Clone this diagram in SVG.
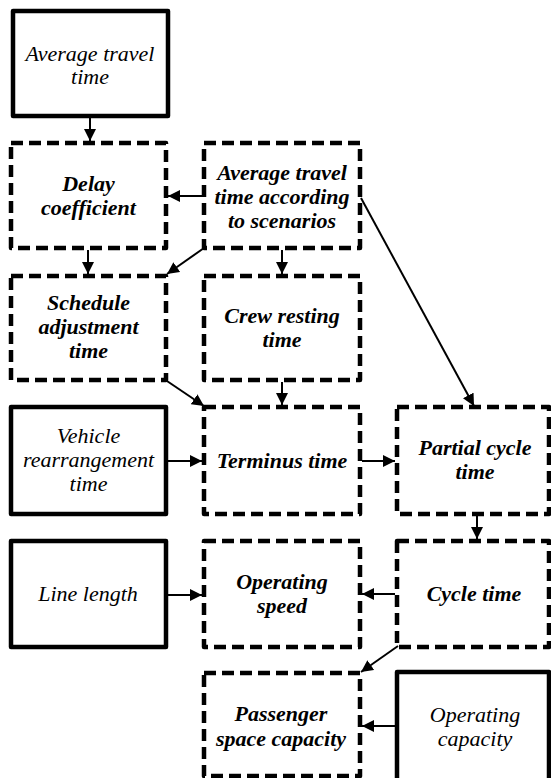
<svg xmlns="http://www.w3.org/2000/svg" width="551" height="778" viewBox="0 0 551 778">
<defs>
<marker id="ah" markerUnits="userSpaceOnUse" markerWidth="13" markerHeight="12" refX="12" refY="6" orient="auto">
<path d="M0,0 L12,6 L0,12 z" fill="#000"/>
</marker>
<style>
.solid{fill:#fff;stroke:#000;stroke-width:4.5;stroke-linejoin:round}
.dash{fill:#fff;stroke:#000;stroke-width:4.5;stroke-dasharray:12 6;stroke-linejoin:round}
.t text{font-size:22px;font-style:italic;text-anchor:middle;fill:#000}
.b{font-weight:bold}
.conn line{stroke:#000;stroke-width:2;marker-end:url(#ah)}
</style>
</defs>
<rect width="551" height="778" fill="#fff"/>

<g class="t" font-family="'Liberation Serif', 'DejaVu Serif', serif">
<g id="avg-travel-time">
<rect class="solid" x="13" y="11" width="155" height="105"/>
<text x="90" y="61">Average travel</text>
<text x="90" y="84">time</text>
</g>

<g id="delay-coefficient">
<rect class="dash" x="11" y="143" width="155" height="105"/>
<text class="b" x="88.5" y="191">Delay</text>
<text class="b" x="88.5" y="215">coefficient</text>
</g>

<g id="avg-travel-scenarios">
<rect class="dash" x="204" y="143" width="156" height="105"/>
<text class="b" x="282" y="180">Average travel</text>
<text class="b" x="282" y="204">time according</text>
<text class="b" x="282" y="228">to scenarios</text>
</g>

<g id="schedule-adjustment">
<rect class="dash" x="11" y="276" width="155" height="104"/>
<text class="b" x="88.5" y="310">Schedule</text>
<text class="b" x="88.5" y="334">adjustment</text>
<text class="b" x="88.5" y="358">time</text>
</g>

<g id="crew-resting">
<rect class="dash" x="204" y="276" width="156" height="104"/>
<text class="b" x="282" y="323">Crew resting</text>
<text class="b" x="282" y="347">time</text>
</g>

<g id="vehicle-rearrangement">
<rect class="solid" x="11" y="407" width="155" height="107"/>
<text x="88.5" y="443">Vehicle</text>
<text x="88.5" y="467">rearrangement</text>
<text x="88.5" y="491">time</text>
</g>

<g id="terminus-time">
<rect class="dash" x="204" y="407" width="156" height="107"/>
<text class="b" x="282" y="468">Terminus time</text>
</g>

<g id="partial-cycle">
<rect class="dash" x="397" y="407" width="152" height="107"/>
<text class="b" x="475" y="455">Partial cycle</text>
<text class="b" x="475" y="479">time</text>
</g>

<g id="line-length">
<rect class="solid" x="11" y="541" width="155" height="106"/>
<text x="88" y="601">Line length</text>
</g>

<g id="operating-speed">
<rect class="dash" x="204" y="541" width="156" height="106"/>
<text class="b" x="282" y="589">Operating</text>
<text class="b" x="282" y="613">speed</text>
</g>

<g id="cycle-time">
<rect class="dash" x="397" y="541" width="152" height="106"/>
<text class="b" x="474" y="601">Cycle time</text>
</g>

<g id="passenger-capacity">
<rect class="dash" x="204" y="673" width="156" height="103"/>
<text class="b" x="281" y="721">Passenger</text>
<text class="b" x="281" y="746">space capacity</text>
</g>

<g id="operating-capacity">
<rect class="solid" x="397" y="672" width="152" height="110"/>
<text x="475" y="722">Operating</text>
<text x="475" y="746">capacity</text>
</g>
</g>

<g id="connectors" class="conn">
<line x1="90" y1="118" x2="90" y2="141"/>
<line x1="202" y1="196" x2="168" y2="196"/>
<line x1="88" y1="250" x2="88" y2="274"/>
<line x1="282" y1="250" x2="282" y2="274"/>
<line x1="204" y1="248" x2="167" y2="274"/>
<line x1="361" y1="198" x2="474" y2="406"/>
<line x1="164" y1="379" x2="204" y2="406"/>
<line x1="282" y1="382" x2="282" y2="405"/>
<line x1="168" y1="461" x2="202" y2="461"/>
<line x1="362" y1="461" x2="395" y2="461"/>
<line x1="477" y1="516" x2="477" y2="539"/>
<line x1="168" y1="595" x2="202" y2="595"/>
<line x1="395" y1="594" x2="362" y2="594"/>
<line x1="398" y1="646" x2="361" y2="672"/>
<line x1="395" y1="726" x2="362" y2="726"/>
</g>
</svg>
